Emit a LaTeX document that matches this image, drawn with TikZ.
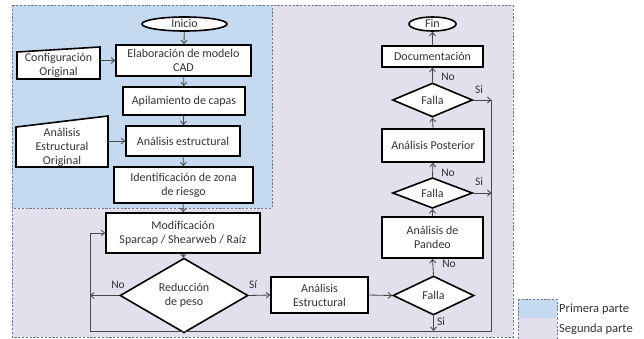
\documentclass[tikz,border=0pt]{standalone}
\usepackage{fontspec}
\setmainfont{Carlito}
\usetikzlibrary{shapes.geometric,arrows.meta}
\definecolor{bluefill}{HTML}{C5D9F1}
\definecolor{lavfill}{HTML}{E4DFEC}
\definecolor{dashcol}{HTML}{6A7A92}
\definecolor{txtcol}{HTML}{333333}
\definecolor{conncol}{HTML}{484848}
\tikzset{
  region/.style={draw=dashcol, line width=0.9pt, dash pattern=on 2.2pt off 1.6pt},
  box/.style={draw=black, fill=white, line width=1.6pt, align=center, inner sep=0pt, text=txtcol,
    font=\fontsize{12}{14}\selectfont},
  dia/.style={box, diamond},
  ell/.style={box, ellipse, text height=8pt, text depth=0pt},
  conn/.style={draw=conncol, line width=0.85pt},
  arr/.style={conn, -{Straight Barb[length=3.5pt,width=6pt]}},
  lbl/.style={text=txtcol, font=\fontsize{11.5}{13}\selectfont, inner sep=0pt},
  txt/.style={text=txtcol, align=center, font=\fontsize{12}{14}\selectfont, inner sep=0pt}
}
\begin{document}
\begin{tikzpicture}[x=1pt,y=-1pt]
\useasboundingbox (0,0) rectangle (644,339);
% regions
\fill[lavfill] (12,5) rectangle (513,337);
\draw[region] (12,5) rectangle (513,337);
\fill[bluefill] (12,5) rectangle (272,208);
\draw[region] (12,5) rectangle (272,208);
% legend
\fill[bluefill] (518,299) rectangle (557,318);
\draw[region] (518,299) rectangle (557,318);
\fill[lavfill] (518,318) rectangle (557,339);
\draw[region] (518,339) -- (518,318) (557,318) -- (557,339);
\node[txt, font=\fontsize{12.5}{14}\selectfont, anchor=west] (leg1) at (559,309.5) {Primera parte};
\node[txt, font=\fontsize{12.5}{14}\selectfont, anchor=west] (leg2) at (559,329) {Segunda parte};

% left column
\node[ell, minimum width=85pt, minimum height=14pt] (inicio) at (184.5,24) {Inicio};
\node[box, minimum width=135pt, minimum height=31pt] (elab) at (183.5,60.5) {Elaboración de modelo\\CAD};
\draw[box] (17,52) -- (100,47) -- (100,79) -- (17,79) -- cycle;
\node[txt, minimum width=83pt, minimum height=27pt] (config) at (58.5,65) {Configuración\\Original};
\node[box, minimum width=122pt, minimum height=28pt] (apil) at (184,101) {Apilamiento de capas};
\node[box, minimum width=114pt, minimum height=30pt] (anest) at (183,141) {Análisis estructural};
\draw[box] (16,127) -- (108,116) -- (108,167) -- (16,167) -- cycle;
\node[txt, minimum width=92pt, minimum height=40pt] (aeo) at (62,147) {Análisis\\Estructural\\Original};
\node[box, minimum width=139pt, minimum height=36pt] (ident) at (183.5,185) {Identificación de zona\\de riesgo};
\node[box, minimum width=154pt, minimum height=40pt] (modif) at (183,233) {Modificación\\Sparcap / Shearweb / Raíz};
\node[dia, minimum width=128pt, minimum height=55pt] (reduc) at (184,295.5) {Reducción\\de peso};
\node[box, minimum width=97pt, minimum height=36pt] (anest2) at (319.5,295) {Análisis\\Estructural};

% right column
\node[dia, minimum width=81pt, minimum height=39pt] (falla3) at (433.5,295.5) {Falla};
\node[box, minimum width=101pt, minimum height=41pt] (pandeo) at (432.5,237.5) {Análisis de\\Pandeo};
\node[dia, minimum width=80pt, minimum height=30pt] (falla2) at (432.5,193) {Falla};
\node[box, minimum width=102pt, minimum height=33pt] (poster) at (433,145.5) {Análisis Posterior};
\node[dia, minimum width=80pt, minimum height=34pt] (falla1) at (432.5,100) {Falla};
\node[box, minimum width=101pt, minimum height=21pt] (doc) at (432.5,56.5) {Documentación};
\node[ell, minimum width=47pt, minimum height=14pt] (fin) at (432.5,24) {Fin};

% loop coordinates
\coordinate (r1) at (491.5,100);
\coordinate (r2) at (491.5,193);
\coordinate (rb) at (491.5,331);
\coordinate (fb) at (433.5,331);
\coordinate (lb) at (90,331);
\coordinate (lm) at (90,233);
\coordinate (lr) at (90,295.5);

% connectors left
\draw[arr] (inicio) -- (elab);
\draw[arr] (100,60.5) -- (elab.west);
\draw[arr] (elab) -- (apil);
\draw[arr] (apil) -- (anest);
\draw[arr] (108,141) -- (anest.west);
\draw[arr] (anest) -- (ident);
\draw[arr] (ident) -- (modif);
\draw[arr] (modif) -- (reduc);
\draw[arr] (reduc.west) -- (lr);
\draw[arr] (reduc.east) -- (anest2.west);
\draw[arr] (anest2.east) -- (falla3.west);
% right
\draw[arr] (falla3.north) -- (pandeo.south);
\draw[arr] (pandeo.north) -- (falla2.south);
\draw[arr] (falla2.north) -- (poster.south);
\draw[arr] (poster.north) -- (falla1.south);
\draw[arr] (falla1.north) -- (doc.south);
\draw[arr] (doc.north) -- (fin.south);
\draw[arr] (falla1.east) -- (r1);
\draw[arr] (falla2.east) -- (r2);
\draw[arr] (falla3.south) -- (fb);
\draw[conn] (r1) -- (rb) -- (lb) -- (lm);
\draw[arr] (lm) -- (modif.west);

% labels
\node[lbl] (lno) at (118,285) {No};
\node[lbl] (lsi) at (253,285) {Sí};
\node[lbl] (no1) at (448,77) {No};
\node[lbl] (si1) at (479,90) {Si};
\node[lbl] (no2) at (448,173) {No};
\node[lbl] (si2) at (479,182) {Si};
\node[lbl] (no3) at (449,264) {No};
\node[lbl] (si3) at (441,322) {Si};
\end{tikzpicture}
\end{document}
